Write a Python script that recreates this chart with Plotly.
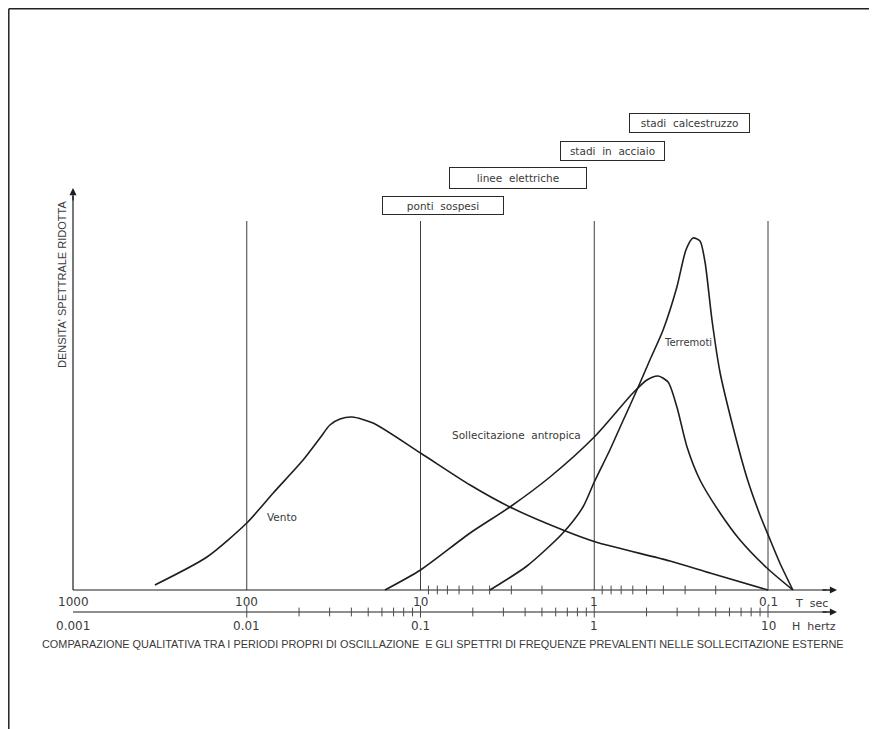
import numpy as np
import plotly.graph_objects as go

# the page adds an 8 px body margin, so the figure is drawn 8 px smaller
OFF = 8
FW, FH = 877 - OFF, 729 - OFF

# ---------------- data (frequency in Hz, reduced spectral density) ----------------
vento_hz = [0.00296, 0.0059, 0.01, 0.0142, 0.0211, 0.0264, 0.0301, 0.0344, 0.0404, 0.0533,
            0.1, 0.193, 0.327, 0.66, 1.02, 2.73, 4.64, 10.0]
vento_d = [0.0125, 0.0825, 0.1675, 0.2425, 0.325, 0.38, 0.4125, 0.4275, 0.4325, 0.4175,
           0.3425, 0.2625, 0.2075, 0.15, 0.12, 0.0725, 0.0425, 0.0]

antropica_hz = [0.0625, 0.1, 0.193, 0.327, 0.556, 1.0, 1.67, 2.01, 2.33, 2.66, 2.99,
                3.42, 4.06, 5.30, 6.90, 9.86, 13.9]
antropica_d = [0.0, 0.05, 0.1425, 0.2075, 0.2825, 0.3825, 0.4925, 0.525, 0.535, 0.52,
               0.4575, 0.3575, 0.275, 0.1925, 0.125, 0.055, 0.0]

terremoti_hz = [0.251, 0.41, 0.66, 0.861, 1.0, 1.23, 1.41, 1.76, 2.09, 2.49, 2.99, 3.37,
                3.70, 4.06, 4.34, 4.76, 5.29, 6.29, 7.57, 8.99, 10.3, 11.7, 13.9]
terremoti_d = [0.0, 0.06, 0.1425, 0.2075, 0.27, 0.35, 0.4075, 0.50, 0.575, 0.65, 0.7575,
               0.85, 0.88, 0.8725, 0.82, 0.675, 0.545, 0.4075, 0.28, 0.1875, 0.125,
               0.0675, 0.0]

curve_names = ["Vento", "Sollecitazione\u00a0 antropica", "Terremoti"]

# axis ticks
grid_hz = [0.01, 0.1, 1, 10]
t_major = [1000, 100, 10, 1, 0.1]
t_major_labels = ["1000", "100", "10", "1", "0.1"]
t_minor = [9, 8, 7, 6, 5, 4, 3, 2, 0.9, 0.8, 0.7, 0.6, 0.5, 0.4, 0.3, 0.2]
h_major = [0.001, 0.01, 0.1, 1, 10]
h_major_labels = ["0.001", "0.01", "0.1", "1", "10"]
h_minor = [0.02, 0.03, 0.04, 0.05, 0.06, 0.07, 0.08, 0.09,
           0.2, 0.3, 0.4, 0.5, 0.6, 0.7, 0.8, 0.9,
           2, 3, 4, 5, 6, 7, 8, 9]

box_labels = ["ponti\u00a0 sospesi", "linee\u00a0 elettriche", "stadi\u00a0 in\u00a0 acciaio",
              "stadi\u00a0 calcestruzzo"]

title_y = "DENSITA' SPETTRALE RIDOTTA"
caption = ("COMPARAZIONE QUALITATIVA TRA I PERIODI PROPRI DI OSCILLAZIONE \u00a0E GLI SPETTRI "
           "DI FREQUENZE PREVALENTI NELLE SOLLECITAZIONE ESTERNE")

# ---------------- layout constants (page pixels) ----------------
X0PIX, DEC = 73.0 - OFF, 173.75     # pixel of 0.001 Hz, pixels per decade
BASE, YSCALE = 590.0 - OFF, 400.0   # pixel of density 0, pixels per unit density
x_range = [-3 - X0PIX / DEC, -3 + (FW - X0PIX) / DEC]
y_range = [(BASE - FH) / YSCALE, BASE / YSCALE]
GRID_TOP = 0.9225
Y_TOP = 1.005
H_AXIS = -0.055
X_TIP = 10 ** (-3 + (837 - OFF - X0PIX) / DEC)


def px(x):
    return (x - OFF) / FW


def py(y):
    return 1 - (y - OFF) / FH


INK = "#1e1e1e"
TXT = "#3a3a3a"
CAD = "DejaVu Sans, Verdana, sans-serif"
NARROW = "Liberation Sans Narrow, Arial Narrow, Liberation Sans, sans-serif"

fig = go.Figure()

# vertical reference lines at decades
gx, gy = [], []
for v in grid_hz:
    gx += [v, v, None]
    gy += [0, GRID_TOP, None]
fig.add_trace(go.Scatter(x=gx, y=gy, mode="lines", line=dict(color="#3c3c3c", width=1),
                         hoverinfo="skip", showlegend=False))

# axes lines
fig.add_trace(go.Scatter(x=[h_major[0], h_major[0]], y=[0, Y_TOP - 0.02], mode="lines",
                         line=dict(color=INK, width=1.2), hoverinfo="skip", showlegend=False))
fig.add_trace(go.Scatter(x=[h_major[0], X_TIP / 1.15], y=[0, 0], mode="lines",
                         line=dict(color=INK, width=1.2), hoverinfo="skip", showlegend=False))
fig.add_trace(go.Scatter(x=[h_major[0], X_TIP / 1.15], y=[H_AXIS, H_AXIS], mode="lines",
                         line=dict(color=INK, width=1.2), hoverinfo="skip", showlegend=False))

# minor ticks on T axis (period) and H axis (frequency)
tx, ty = [], []
for t in t_minor:
    f = 1.0 / t
    tx += [f, f, None]
    ty += [-0.011, 0.011, None]
for f in h_minor:
    tx += [f, f, None]
    ty += [H_AXIS - 0.011, H_AXIS + 0.011, None]
for f in h_major[1:]:
    tx += [f, f, None]
    ty += [H_AXIS - 0.014, H_AXIS + 0.016, None]
fig.add_trace(go.Scatter(x=tx, y=ty, mode="lines", line=dict(color="#4a4a4a", width=1),
                         hoverinfo="skip", showlegend=False))

# curves
for xs, ys, name in [(vento_hz, vento_d, curve_names[0]),
                     (antropica_hz, antropica_d, curve_names[1]),
                     (terremoti_hz, terremoti_d, curve_names[2])]:
    fig.add_trace(go.Scatter(x=xs, y=ys, mode="lines", name=name,
                             line=dict(color=INK, width=1.6, shape="spline", smoothing=0.7),
                             showlegend=False))

ann = []
# arrowheads
for yv in (0, H_AXIS):
    ann.append(dict(x=np.log10(X_TIP), y=yv, xref="x", yref="y", ax=-16, ay=0, text="",
                    showarrow=True, arrowhead=2, arrowsize=1.1, arrowwidth=1.3,
                    arrowcolor=INK))
ann.append(dict(x=np.log10(h_major[0]), y=Y_TOP, xref="x", yref="y", ax=0, ay=14, text="",
                showarrow=True, arrowhead=2, arrowsize=1.1, arrowwidth=1.3, arrowcolor=INK))

# tick labels
for t, lab in zip(t_major, t_major_labels):
    ann.append(dict(x=np.log10(1.0 / t), y=-0.03, xref="x", yref="y", text=lab,
                    xanchor="center", yanchor="middle",
                    showarrow=False, font=dict(family=CAD, size=12, color=TXT)))
for f, lab in zip(h_major, h_major_labels):
    ann.append(dict(x=np.log10(f), y=H_AXIS - 0.036, xref="x", yref="y", text=lab,
                    xanchor="center", yanchor="middle",
                    showarrow=False, font=dict(family=CAD, size=12, color=TXT)))
ann.append(dict(x=px(793), y=py(603), xref="paper", yref="paper", text="T\u00a0 sec",
                xanchor="left", yanchor="middle", showarrow=False,
                font=dict(family=CAD, size=11, color=TXT)))
ann.append(dict(x=px(790), y=py(626), xref="paper", yref="paper", text="H\u00a0 hertz",
                xanchor="left", yanchor="middle", showarrow=False,
                font=dict(family=CAD, size=11, color=TXT)))

# curve labels
for (lx, ly, fs), lab in zip([(265, 517, 10.5), (450, 435, 10.5), (662, 342, 10)], curve_names):
    ann.append(dict(x=px(lx), y=py(ly), xref="paper", yref="paper", text=lab,
                    xanchor="left", yanchor="middle", showarrow=False,
                    font=dict(family=CAD, size=fs, color=TXT)))

# boxed labels (structure types)
boxes = [(382, 504, 196, 215), (449, 587, 167, 189), (560, 665, 141, 161), (629, 750, 113, 133)]
for (x0, x1, y0, y1), lab in zip(boxes, box_labels):
    ann.append(dict(x=px((x0 + x1) / 2), y=py((y0 + y1) / 2), xref="paper", yref="paper",
                    xanchor="center", yanchor="middle",
                    text=lab, showarrow=False, width=x1 - x0 - 2, height=y1 - y0 - 2,
                    borderpad=0, bordercolor="#2a2a2a", borderwidth=1, align="center",
                    valign="middle", font=dict(family=CAD, size=10.5, color=TXT)))

# axis title & caption
ann.append(dict(x=px(62), y=py(285), xref="paper", yref="paper", text=title_y, textangle=-90,
                xanchor="center", yanchor="middle",
                showarrow=False, font=dict(family=NARROW, size=11, color=TXT)))
ann.append(dict(x=px(443), y=py(644), xref="paper", yref="paper", text=caption,
                xanchor="center", yanchor="middle",
                showarrow=False, font=dict(family=NARROW, size=10.9, color=TXT)))

fig.update_layout(
    width=FW, height=FH, autosize=False,
    margin=dict(l=0, r=0, t=0, b=0),
    paper_bgcolor="white", plot_bgcolor="white",
    xaxis=dict(type="log", range=x_range, visible=False, fixedrange=True),
    yaxis=dict(range=y_range, visible=False, fixedrange=True),
    annotations=ann,
    shapes=[
        dict(type="line", xref="paper", yref="paper", x0=0.8 / FW, x1=0.8 / FW,
             y0=1 - 0.8 / FH, y1=0, line=dict(color="#222", width=1.5)),
        dict(type="line", xref="paper", yref="paper", x0=0.8 / FW, x1=1,
             y0=1 - 0.8 / FH, y1=1 - 0.8 / FH, line=dict(color="#222", width=1.5)),
    ],
)

fig.write_html("out.html")
